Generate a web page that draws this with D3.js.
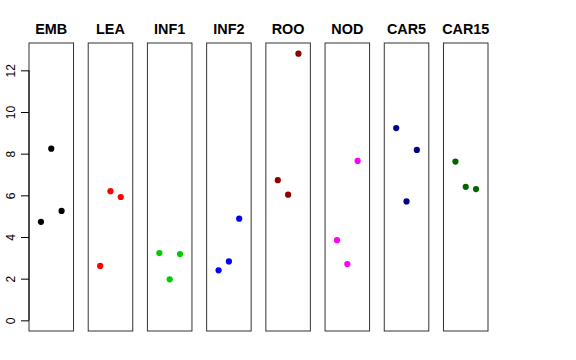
<!DOCTYPE html>
<html><head><meta charset="utf-8">
<script src="https://cdn.jsdelivr.net/npm/d3@7"></script>
<style>body{margin:0;background:#fff}svg{display:block}</style>
</head><body>
<script>
const categories = ["EMB","LEA","INF1","INF2","ROO","NOD","CAR5","CAR15"];
const colors = ["#000000","#FF0000","#00CD00","#0000FF","#8B0000","#FF00FF","#00008B","#006400"];
const values = [
  [4.73, 8.24, 5.25],
  [2.61, 6.20, 5.92],
  [3.23, 1.97, 3.18],
  [2.40, 2.83, 4.88],
  [6.73, 6.03, 12.80],
  [3.85, 2.70, 7.65],
  [9.23, 5.71, 8.18],
  [7.62, 6.41, 6.30]
];
const yTicks = [0, 2, 4, 6, 8, 10, 12];

const W = 576, H = 360;
const svg = d3.select("body").append("svg").attr("width", W).attr("height", H);

const plotTop = 43, plotBottom = 331;
const yLo = 0, yHi = 12.8, yPad = (yHi - yLo) * 0.04;
const y = d3.scaleLinear().domain([yLo - yPad, yHi + yPad]).range([plotBottom, plotTop]);

const panels = d3.scaleBand().domain(categories).range([29, 488]).paddingInner(0.248).paddingOuter(0);
const xPad = 4 * 0.04;
const x = d3.scaleLinear().domain([0 - xPad, 4 + xPad]);

categories.forEach((cat, i) => {
  const x0 = panels(cat), bw = panels.bandwidth();
  x.range([x0, x0 + bw]);
  const g = svg.append("g");
  g.append("rect").attr("x", x0).attr("y", plotTop).attr("width", bw).attr("height", plotBottom - plotTop)
    .attr("fill", "none").attr("stroke", "#333").attr("stroke-width", 1);
  g.selectAll("circle").data(values[i]).join("circle")
    .attr("cx", (d, j) => x(j + 1)).attr("cy", d => y(d)).attr("r", 3.1)
    .attr("fill", colors[i]);
  g.append("text").attr("x", x0 + bw / 2).attr("y", 34).attr("text-anchor", "middle")
    .attr("font-family", "Liberation Sans, Arial, sans-serif").attr("font-weight", "bold")
    .attr("font-size", 14.4).text(cat);
});

const axisX = panels(categories[0]);
const ax = svg.append("g").attr("transform", `translate(${axisX},0)`)
  .call(d3.axisLeft(y).tickValues(yTicks).tickSize(8).tickPadding(0).tickFormat(d3.format("d")));
ax.select(".domain").attr("d", `M0,${y(0)}V${y(12)}`).attr("stroke", "#000");
ax.selectAll(".tick line").attr("stroke", "#000");
ax.selectAll(".tick text")
  .attr("font-family", "Liberation Sans, Arial, sans-serif").attr("font-size", 12).attr("fill", "#000")
  .attr("text-anchor", "middle").attr("x", 0).attr("y", 0)
  .attr("transform", "translate(-18.5,0) rotate(-90)").attr("dy", "0.35em");
</script>
</body></html>
